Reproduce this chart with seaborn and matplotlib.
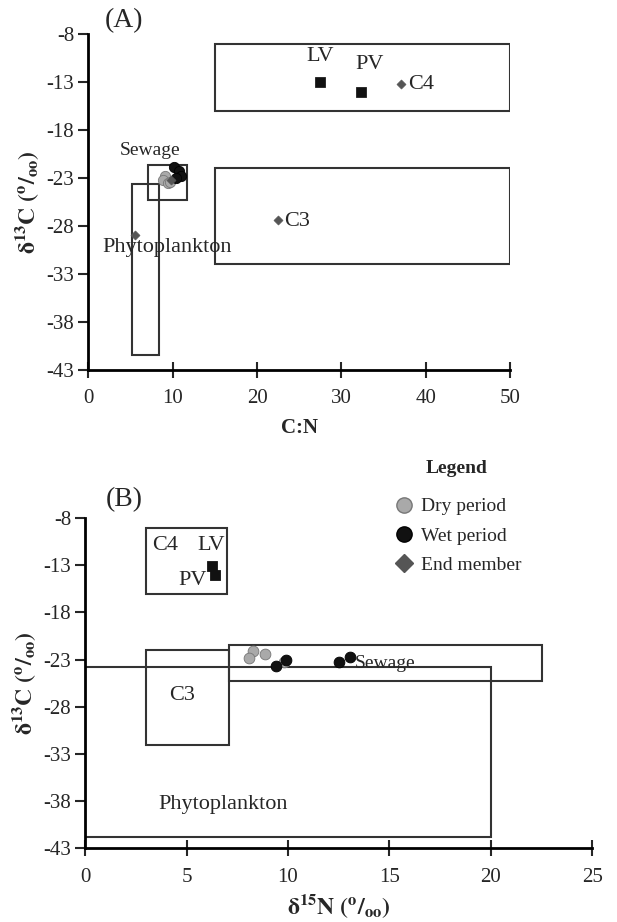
import matplotlib
matplotlib.use("Agg")
import matplotlib.pyplot as plt
import matplotlib.patches as patches
from matplotlib.lines import Line2D
import pandas as pd
import seaborn as sns

# panel A: C:N vs d13C
dry_cn = [9.1, 8.9, 9.4, 9.7]
dry_c13_a = [-22.8, -23.2, -23.5, -23.4]
wet_cn = [10.2, 10.8, 11.0, 10.4]
wet_c13_a = [-21.9, -22.3, -22.8, -23.0]
end_names = ["C4", "C3", "Phytoplankton", "Sewage"]
end_cn = [37.1, 22.5, 5.6, 9.8]
end_c13 = [-13.2, -27.4, -29.0, -23.2]
veg_names = ["LV", "PV"]
veg_cn = [27.5, 32.3]
veg_c13_a = [-13.0, -14.0]

# panel B: d15N vs d13C
dry_n15 = [8.25, 8.1, 8.85, 9.8]
dry_c13_b = [-22.1, -22.8, -22.45, -23.3]
wet_n15 = [9.4, 9.9, 12.5, 13.05]
wet_c13_b = [-23.65, -23.05, -23.2, -22.75]
veg_n15 = [6.25, 6.4]
veg_c13_b = [-13.05, -14.0]

# source boxes: name, xmin, xmax, ymin, ymax
boxes_a = [("C4", 15, 50, -16, -9), ("C3", 15, 50, -32, -22),
           ("Sewage", 7.1, 11.7, -25.3, -21.7), ("Phytoplankton", 5.2, 8.4, -41.5, -23.6)]
boxes_b = [("C4", 3, 7, -16, -9), ("C3", 3, 7.1, -32, -22),
           ("Sewage", 7.1, 22.5, -25.3, -21.4), ("Phytoplankton", 0, 20, -41.8, -23.8)]

y_ticks = [-8, -13, -18, -23, -28, -33, -38, -43]

sns.set_style("ticks")
plt.rcParams["font.family"] = ["Liberation Serif", "DejaVu Serif"]
plt.rcParams["mathtext.fontset"] = "stix"
plt.rcParams["axes.unicode_minus"] = False

fig = plt.figure(figsize=(6.17, 9.22), dpi=100)
ax1 = fig.add_axes([0.143, 0.599, 0.684, 0.364])
ax2 = fig.add_axes([0.138, 0.080, 0.822, 0.358])

dry_col = "#a9a9a9"
wet_col = "#111111"
end_col = "#555555"


def draw_boxes(ax, boxes):
    for name, x0, x1, y0, y1 in boxes:
        ax.add_patch(patches.Rectangle((x0, y0), x1 - x0, y1 - y0, fill=False,
                                       edgecolor="#333333", lw=1.5, zorder=1))


def style_axes(ax, xmax, xstep):
    ax.set_ylim(-43, -8)
    ax.set_yticks(y_ticks)
    ax.set_xlim(0, xmax)
    ax.set_xticks(range(0, xmax + 1, xstep))
    sns.despine(ax=ax)
    for s in ["left", "bottom"]:
        ax.spines[s].set_linewidth(2)
        ax.spines[s].set_color("black")
    ax.tick_params(axis="y", direction="out", length=7, width=1.5, labelsize=15, pad=3)
    ax.tick_params(axis="x", direction="inout", length=12, width=1.5, labelsize=15, pad=8)
    ax.set_ylabel(r"$\mathbf{\delta^{13}C\ (^{o}/_{oo})}$", fontsize=17, labelpad=4)


# ---- panel A
draw_boxes(ax1, boxes_a)
sns.scatterplot(x=dry_cn, y=dry_c13_a, ax=ax1, color=dry_col, edgecolor="#777777",
                s=55, zorder=3, legend=False)
sns.scatterplot(x=wet_cn, y=wet_c13_a, ax=ax1, color=wet_col, edgecolor="#000000",
                s=55, zorder=3, legend=False)
sns.scatterplot(x=end_cn, y=end_c13, ax=ax1, color=end_col, marker="D", s=22,
                edgecolor=end_col, zorder=4, legend=False)
sns.scatterplot(x=veg_cn, y=veg_c13_a, ax=ax1, color="#111111", marker="s", s=45,
                edgecolor="#111111", zorder=4, legend=False)
style_axes(ax1, 50, 10)
ax1.set_xlabel("C:N", fontsize=15, fontweight="bold", labelpad=7)

ax1.text(27.5, -11.3, "LV", fontsize=16, ha="center", va="bottom")
ax1.text(33.3, -12.2, "PV", fontsize=16, ha="center", va="bottom")
ax1.text(37.9, -13.3, "C4", fontsize=16, ha="left", va="center")
ax1.text(23.2, -27.5, "C3", fontsize=16, ha="left", va="center")
ax1.text(7.3, -21.0, "Sewage", fontsize=14, ha="center", va="bottom")
ax1.text(9.3, -30.3, "Phytoplankton", fontsize=16, ha="center", va="center")
ax1.text(0.04, 1.04, "(A)", transform=ax1.transAxes, fontsize=20, ha="left", va="center")

# ---- panel B
draw_boxes(ax2, boxes_b)
sns.scatterplot(x=dry_n15, y=dry_c13_b, ax=ax2, color=dry_col, edgecolor="#777777",
                s=60, zorder=3, legend=False)
sns.scatterplot(x=wet_n15, y=wet_c13_b, ax=ax2, color=wet_col, edgecolor="#000000",
                s=60, zorder=3, legend=False)
sns.scatterplot(x=veg_n15, y=veg_c13_b, ax=ax2, color="#111111", marker="s", s=55,
                edgecolor="#111111", zorder=4, legend=False)
style_axes(ax2, 25, 5)
ax2.set_xlabel(r"$\mathbf{\delta^{15}N\ (^{o}/_{oo})}$", fontsize=17, labelpad=4)

ax2.text(3.95, -10.9, "C4", fontsize=16, ha="center", va="center")
ax2.text(6.2, -10.9, "LV", fontsize=16, ha="center", va="center")
ax2.text(5.3, -14.6, "PV", fontsize=16, ha="center", va="center")
ax2.text(4.8, -26.8, "C3", fontsize=16, ha="center", va="center")
ax2.text(6.8, -38.4, "Phytoplankton", fontsize=16, ha="center", va="center")
ax2.text(13.3, -23.4, "Sewage", fontsize=14, ha="left", va="center")
ax2.text(0.04, 1.055, "(B)", transform=ax2.transAxes, fontsize=20, ha="left", va="center")

handles = [
    Line2D([], [], ls="none", marker="o", ms=11, mfc=dry_col, mec="#777777"),
    Line2D([], [], ls="none", marker="o", ms=11, mfc=wet_col, mec="#000000"),
    Line2D([], [], ls="none", marker="D", ms=9, mfc=end_col, mec=end_col),
]
leg = ax2.legend(handles, ["Dry period", "Wet period", "End member"],
                 loc="upper left", bbox_to_anchor=(0.59, 1.2), frameon=False,
                 fontsize=14, title="Legend", handletextpad=0.3, labelspacing=0.6,
                 handlelength=1.2, borderaxespad=0)
leg.get_title().set_fontweight("bold")
leg.get_title().set_fontsize(14)
leg._legend_box.align = "center"
leg._legend_box.sep = 15

fig.savefig("out.png", dpi=100)
